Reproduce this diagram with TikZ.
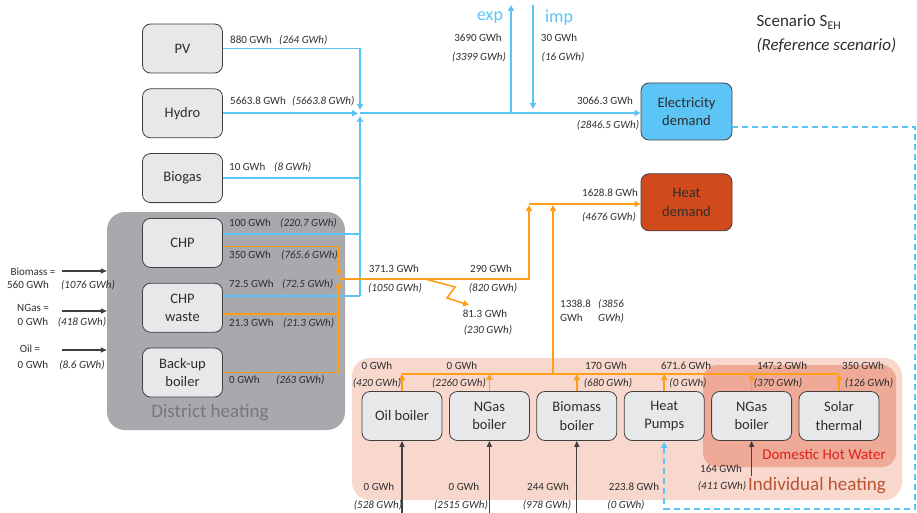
\documentclass[tikz,border=0pt]{standalone}
\usepackage{fontspec}
\setmainfont{Carlito}
\usetikzlibrary{arrows.meta, positioning}
\definecolor{elblue}{RGB}{92,197,245}
\definecolor{htorange}{RGB}{255,158,24}
\definecolor{boxgray}{RGB}{231,232,234}
\definecolor{edgegray}{RGB}{64,64,64}
\definecolor{dhgray}{RGB}{167,169,173}
\definecolor{dhtext}{RGB}{118,120,124}
\definecolor{ihpink}{RGB}{248,215,205}
\definecolor{dhwsalmon}{RGB}{238,170,150}
\definecolor{ihtext}{RGB}{184,84,52}
\definecolor{dhwtext}{RGB}{224,32,30}
\definecolor{demred}{RGB}{208,74,28}
\definecolor{txtgray}{RGB}{45,45,45}
\tikzstyle{unit} = [draw=edgegray, thick, rectangle, rounded corners=8pt, fill=boxgray, minimum width=80pt, minimum height=49pt, align=center, font=\fontsize{14.5}{18.5}\selectfont, text=txtgray]
\tikzstyle{demand} = [unit, minimum width=91pt, minimum height=57pt]
\tikzstyle{panel} = [rectangle, draw=none, rounded corners=18pt]
\tikzstyle{val} = [font=\fontsize{11}{14}\selectfont, text=txtgray, inner sep=0pt]
\tikzstyle{valit} = [val, font=\fontsize{11}{14}\selectfont\itshape]
\tikzstyle{eline} = [elblue, line width=1.6pt]
\tikzstyle{hline} = [htorange, line width=1.6pt]
\tikzstyle{dline} = [elblue, line width=1.5pt, dash pattern=on 6pt off 4pt]
\tikzstyle{arrow} = [-{Triangle[length=6pt,width=6pt]}]
\tikzstyle{inarrow} = [edgegray, line width=1.3pt, -{Triangle[length=6pt,width=5pt]}]

\begin{document}
\begin{tikzpicture}[x=1pt, y=-1pt]
    \useasboundingbox (0,0) rectangle (917,513);
    % background panels
    \node [panel, fill=dhgray, minimum width=238pt, minimum height=218pt] (dh) at (226,321) {};
    \node [panel, fill=ihpink, minimum width=550pt, minimum height=142pt] (ih) at (627,429) {};
    \node [panel, fill=dhwsalmon, rounded corners=14pt, minimum width=193pt, minimum height=102pt] (dhw) at (799.5,416) {};
    \node [font=\fontsize{19}{20}\selectfont, text=dhtext] (dhlabel) at (210,413) {District heating};
    \node [font=\fontsize{19}{20}\selectfont, text=ihtext] (ihlabel) at (817,486) {Individual heating};
    \node [font=\fontsize{15}{16}\selectfont, text=dhwtext] (dhwlabel) at (824,454) {Domestic Hot Water};

    % supply side
    \node [unit] (pv) at (182.5,48.5) {PV};
    \node [unit, below=15pt of pv] (hydro) {Hydro};
    \node [unit, below=15pt of hydro] (biogas) {Biogas};
    \node [unit, below=15pt of biogas] (chp) {CHP};
    \node [unit, below=15pt of chp] (waste) {CHP\\waste};
    \node [unit, below=15pt of waste] (backup) {Back-up\\boiler};

    % demands
    \node [demand, fill=elblue] (elec) at (686.5,111.5) {Electricity\\demand};
    \node [demand, fill=demred, below=33pt of elec] (heat) {Heat\\demand};

    % individual heating
    \node [unit] (oil) at (402,416) {Oil boiler};
    \node [unit, right=6.6pt of oil] (ngas) {NGas\\boiler};
    \node [unit, right=6.6pt of ngas] (biomass) {Biomass\\boiler};
    \node [unit, right=6.6pt of biomass] (hp) {Heat\\Pumps};
    \node [unit, right=6.6pt of hp] (ngas2) {NGas\\boiler};
    \node [unit, right=6.6pt of ngas2] (solar) {Solar\\thermal};

    % electricity network
    \coordinate (ebus) at (360,113);
    \coordinate (wb) at ([yshift=12pt]waste.east);
    \coordinate (elow) at (wb -| ebus);
    \draw [eline, arrow, shorten >=3pt] (pv) -| (ebus);
    \draw [eline, arrow, shorten >=2pt] (hydro) -- (hydro -| ebus);
    \draw [eline, arrow, shorten >=3pt] (elow) -- (ebus);
    \draw [eline] (biogas) -- (biogas -| ebus);
    \coordinate (cb) at ([yshift=9pt]chp.east);
    \draw [eline] (cb) -- (cb -| ebus);
    \draw [eline] (wb) -- (elow);
    \draw [eline, arrow] (ebus) -- (ebus -| elec.west);
    \coordinate (expbase) at (511,113);
    \coordinate (exptop) at (511,5);
    \coordinate (imptop) at (533,5);
    \coordinate (impbase) at (533,109);
    \draw [eline, arrow] (expbase) -- (exptop);
    \draw [eline, arrow] (imptop) -- (impbase);
    \node [font=\fontsize{18}{20}\selectfont, text=elblue] (exp) at (490,18) {exp};
    \node [font=\fontsize{18}{20}\selectfont, text=elblue] (imp) at (559,18) {imp};
    \coordinate (dstart) at ([yshift=-15.5pt]elec.east);
    \coordinate (dcorner) at (915,509);
    \draw [dline, arrow, shorten >=1pt] (dstart) -| (dcorner) -| (hp.south);

    % heat network
    \coordinate (hbus) at (339,279);
    \coordinate (cho) at ([yshift=-3.5pt]chp.east);
    \coordinate (wo) at ([yshift=-6pt]waste.east);
    \draw [hline, arrow, shorten >=3pt] (cho) -| (hbus);
    \draw [hline, arrow, shorten >=3pt] (backup) -| (hbus);
    \draw [hline] (wo) -- (wo -| hbus);
    \coordinate (hturn) at (529,279);
    \coordinate (hmerge) at (529,204);
    \draw [hline, arrow, shorten >=1pt] (hbus) -- (hturn) -- (hmerge);
    \draw [hline, arrow] (hmerge) -- (hmerge -| heat.west);
    \coordinate (zz) at (425,279);
    \coordinate (loss) at (469,305);
    \draw [hline, arrow] (zz) -- (455,287) -- (447,298) -- (loss);
    \coordinate (ibus) at (553,374);
    \draw [hline, arrow, shorten >=1pt] (ibus) -- (ibus |- hmerge);
    \draw [hline] (oil.north |- ibus) -- (solar.north |- ibus);
    \foreach \b in {oil,ngas,biomass,hp,ngas2,solar}
        \draw [hline, arrow] (\b.north) -- (\b.north |- ibus);

    % fuel inputs
    \coordinate (bot) at (0,513);
    \foreach \b in {oil,ngas,biomass}
        \draw [inarrow] (\b.south |- bot) -- (\b.south);
    \coordinate (dhwin) at (0,476);
    \draw [inarrow] (ngas2.south |- dhwin) -- (ngas2.south);
    \coordinate (bioin) at (62,271);
    \coordinate (ngin) at (62,311);
    \coordinate (oilin) at (62,350);
    \draw [inarrow] (bioin) -- (bioin -| dh.west);
    \draw [inarrow] (ngin) -- (ngin -| dh.west);
    \draw [inarrow] (oilin) -- (oilin -| dh.west);

    % values (reference scenario in brackets)
    \node [val, anchor=west] (pvval) at (230,40) {880 GWh};
    \node [valit, anchor=west] (pvref) at (279,40) {(264 GWh)};
    \node [val, anchor=west] (hyval) at (230,101) {5663.8 GWh};
    \node [valit, anchor=west] (hyref) at (292,101) {(5663.8 GWh)};
    \node [val, anchor=west] (bgval) at (229,167) {10 GWh};
    \node [valit, anchor=west] (bgref) at (274,167) {(8 GWh)};
    \node [val, anchor=west] (chpeval) at (229,223) {100 GWh};
    \node [valit, anchor=west] (chperef) at (280,223) {(220.7 GWh)};
    \node [val, anchor=west] (chphval) at (229,255) {350 GWh};
    \node [valit, anchor=west] (chphref) at (281,255) {(765.6 GWh)};
    \node [val, anchor=west] (wsteval) at (229,284) {72.5 GWh};
    \node [valit, anchor=west] (wsteref) at (282,284) {(72.5 GWh)};
    \node [val, anchor=west] (wsthval) at (229,323) {21.3 GWh};
    \node [valit, anchor=west] (wsthref) at (283,323) {(21.3 GWh)};
    \node [val, anchor=west] (bkval) at (229,380) {0 GWh};
    \node [valit, anchor=west] (bkref) at (276,380) {(263 GWh)};

    \node [val] (expval) at (478,38) {3690 GWh};
    \node [valit] (expref) at (479,57) {(3399 GWh)};
    \node [val] (impval) at (559,38) {30 GWh};
    \node [valit] (impref) at (563,57) {(16 GWh)};
    \node [val] (elval) at (605,101) {3066.3 GWh};
    \node [valit] (elref) at (608,125) {(2846.5 GWh)};

    \node [val] (dhval) at (394,269) {371.3 GWh};
    \node [valit] (dhref) at (395,288) {(1050 GWh)};
    \node [val] (netval) at (491,269) {290 GWh};
    \node [valit] (netref) at (493,288) {(820 GWh)};
    \node [val] (lossval) at (485,314) {81.3 GWh};
    \node [valit] (lossref) at (488,330) {(230 GWh)};
    \node [val] (htval) at (610,193) {1628.8 GWh};
    \node [valit] (htref) at (609,217) {(4676 GWh)};
    \node [val, anchor=west, align=left] (ihval) at (560,311) {1338.8\\GWh};
    \node [valit, anchor=west, align=left] (ihref) at (598,311) {(3856\\GWh)};

    \node [val] (oilval) at (377,366) {0 GWh};
    \node [valit] (oilref) at (377,383) {(420 GWh)};
    \node [val] (ngval) at (462,366) {0 GWh};
    \node [valit] (ngref) at (459,383) {(2260 GWh)};
    \node [val] (bmval) at (606,366) {170 GWh};
    \node [valit] (bmref) at (608,383) {(680 GWh)};
    \node [val] (hpval) at (686,366) {671.6 GWh};
    \node [valit] (hpref) at (688,383) {(0 GWh)};
    \node [val] (ng2val) at (782,366) {147.2 GWh};
    \node [valit] (ng2ref) at (778,383) {(370 GWh)};
    \node [val] (solval) at (863,366) {350 GWh};
    \node [valit] (solref) at (869,383) {(126 GWh)};

    \node [val] (oilfval) at (379,487) {0 GWh};
    \node [valit] (oilfref) at (378,505) {(528 GWh)};
    \node [val] (ngfval) at (464,487) {0 GWh};
    \node [valit] (ngfref) at (461,505) {(2515 GWh)};
    \node [val] (bmfval) at (548,487) {244 GWh};
    \node [valit] (bmfref) at (547,505) {(978 GWh)};
    \node [val] (hpfval) at (634,487) {223.8 GWh};
    \node [valit] (hpfref) at (626,505) {(0 GWh)};
    \node [val] (ng2fval) at (721,469) {164 GWh};
    \node [valit] (ng2fref) at (722,486) {(411 GWh)};

    \node [val] (biotxt) at (33,272) {Biomass =};
    \node [val] (bioval) at (28,285) {560 GWh};
    \node [valit] (bioref) at (88,285) {(1076 GWh)};
    \node [val] (ngtxt) at (33,308) {NGas =};
    \node [val] (ngsval) at (33,322) {0 GWh};
    \node [valit] (ngsref) at (82,322) {(418 GWh)};
    \node [val] (oiltxt) at (30,349) {Oil =};
    \node [val] (oilsval) at (33,365) {0 GWh};
    \node [valit] (oilsref) at (82,365) {(8.6 GWh)};

    % scenario title
    \node [anchor=west, font=\fontsize{17}{19}\selectfont, text=txtgray] (scen) at (753,22) {Scenario S\textsubscript{EH}};
    \node [anchor=west, font=\fontsize{17}{19}\selectfont\itshape, text=txtgray] (scenref) at (753,45) {(Reference scenario)};
\end{tikzpicture}
\end{document}
